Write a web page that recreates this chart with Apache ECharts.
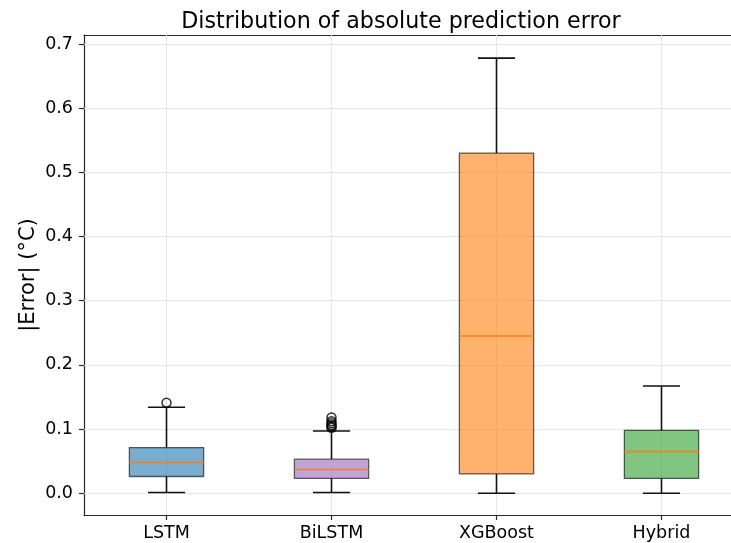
<!DOCTYPE html>
<html>
<head>
<meta charset="utf-8">
<script src="https://cdn.jsdelivr.net/npm/echarts@6/dist/echarts.min.js"></script>
<style>
  html, body { margin: 0; padding: 0; background: #fff; }
  #chart { width: 731px; height: 543px; }
</style>
</head>
<body>
<div id="chart"></div>
<script>
// Box statistics per model (absolute error, °C)
const categories = ['LSTM', 'BiLSTM', 'XGBoost', 'Hybrid'];
const lowerWhisker = [0.001, 0.001, 0.000, 0.000];
const q1 = [0.026, 0.023, 0.030, 0.023];
const median = [0.048, 0.037, 0.245, 0.065];
const q3 = [0.071, 0.053, 0.530, 0.098];
const upperWhisker = [0.134, 0.097, 0.678, 0.167];
// Outlier points: [model index, value]
const outliers = [
  [0, 0.141],
  [1, 0.102], [1, 0.104], [1, 0.106], [1, 0.109], [1, 0.112], [1, 0.118]
];
const yTicks = [0.0, 0.1, 0.2, 0.3, 0.4, 0.5, 0.6, 0.7];
const boxFill = [
  'rgba(31,119,180,0.6)',
  'rgba(148,103,189,0.6)',
  'rgba(255,127,14,0.6)',
  'rgba(44,160,44,0.6)'
];

const boxData = categories.map((c, i) =>
  [i, lowerWhisker[i], q1[i], median[i], q3[i], upperWhisker[i]]);

function renderBox(params, api) {
  const i = api.value(0);
  const band = api.size([1, 0])[0];
  const boxW = band * 0.45;
  const capW = boxW / 2;
  const pLow = api.coord([i, api.value(1)]);
  const pQ1 = api.coord([i, api.value(2)]);
  const pMed = api.coord([i, api.value(3)]);
  const pQ3 = api.coord([i, api.value(4)]);
  const pHigh = api.coord([i, api.value(5)]);
  const cx = pMed[0];
  const black = { stroke: '#111', lineWidth: 1.6 };
  return {
    type: 'group',
    children: [
      { type: 'line', shape: { x1: cx, y1: pQ1[1], x2: cx, y2: pLow[1] }, style: black },
      { type: 'line', shape: { x1: cx, y1: pQ3[1], x2: cx, y2: pHigh[1] }, style: black },
      { type: 'line', shape: { x1: cx - capW / 2, y1: pLow[1], x2: cx + capW / 2, y2: pLow[1] }, style: black },
      { type: 'line', shape: { x1: cx - capW / 2, y1: pHigh[1], x2: cx + capW / 2, y2: pHigh[1] }, style: black },
      {
        type: 'rect',
        shape: { x: cx - boxW / 2, y: pQ3[1], width: boxW, height: pQ1[1] - pQ3[1] },
        style: { fill: boxFill[i], stroke: 'rgba(0,0,0,0.6)', lineWidth: 1.3 }
      },
      { type: 'line', shape: { x1: cx - boxW / 2, y1: pMed[1], x2: cx + boxW / 2, y2: pMed[1] },
        style: { stroke: '#ff7f0e', lineWidth: 1.6 } }
    ]
  };
}

const gridLine = { color: '#e5e5e5', width: 1, type: 'solid' };
const spine = { color: '#262626', width: 1.2 };

const chart = echarts.init(document.getElementById('chart'), null, { renderer: 'canvas' });
chart.setOption({
  animation: false,
  backgroundColor: '#fff',
  textStyle: { fontFamily: 'DejaVu Sans' },
  title: {
    text: 'Distribution of absolute prediction error',
    left: 396, top: 6, textAlign: 'center',
    textStyle: { fontSize: 22.2, fontWeight: 'normal', color: '#000', fontFamily: 'DejaVu Sans' }
  },
  grid: {
    left: 84, top: 35, width: 660, height: 480,
    outerBoundsMode: 'none',
    containLabel: false,
    show: false
  },
  xAxis: [
    {
      type: 'category',
      position: 'bottom',
      data: categories,
      axisLine: { show: true, onZero: false, lineStyle: spine },
      axisTick: { show: true, alignWithLabel: true, length: 5, lineStyle: spine },
      axisLabel: { fontSize: 17.5, color: '#000', margin: 9, fontFamily: 'DejaVu Sans' },
      splitLine: { show: false }
    },
    {
      // top spine
      type: 'category',
      position: 'top',
      data: categories,
      axisLine: { show: true, onZero: false, lineStyle: spine },
      axisTick: { show: false },
      axisLabel: { show: false },
      splitLine: { show: false }
    }
  ],
  yAxis: {
    type: 'value',
    min: -0.034, max: 0.714,
    name: '|Error| (°C)',
    nameLocation: 'middle',
    nameGap: 45,
    nameMoveOverlap: false,
    nameTextStyle: { fontSize: 21, color: '#000', fontFamily: 'DejaVu Sans' },
    axisLine: { show: true, onZero: false, lineStyle: spine },
    axisTick: { show: true, length: 5, customValues: yTicks, lineStyle: spine },
    axisLabel: {
      fontSize: 17.5, color: '#000', margin: 11, fontFamily: 'DejaVu Sans',
      customValues: yTicks,
      formatter: v => v.toFixed(1)
    },
    splitLine: { show: false }
  },
  series: [
    {
      // background grid lines
      type: 'line',
      data: [],
      z: 1,
      silent: true,
      markLine: {
        z: 1,
        silent: true,
        symbol: 'none',
        label: { show: false },
        lineStyle: gridLine,
        data: categories.map(c => ({ xAxis: c }))
          .concat(yTicks.map(v => ({ yAxis: v })))
      }
    },
    {
      type: 'custom',
      z: 3,
      renderItem: renderBox,
      encode: { x: 0, y: [1, 2, 3, 4, 5] },
      data: boxData
    },
    {
      type: 'scatter',
      z: 4,
      symbol: 'circle',
      symbolSize: 9,
      itemStyle: { color: 'rgba(0,0,0,0)', borderColor: '#000', borderWidth: 1.5 },
      data: outliers
    }
  ]
});
</script>
</body>
</html>
